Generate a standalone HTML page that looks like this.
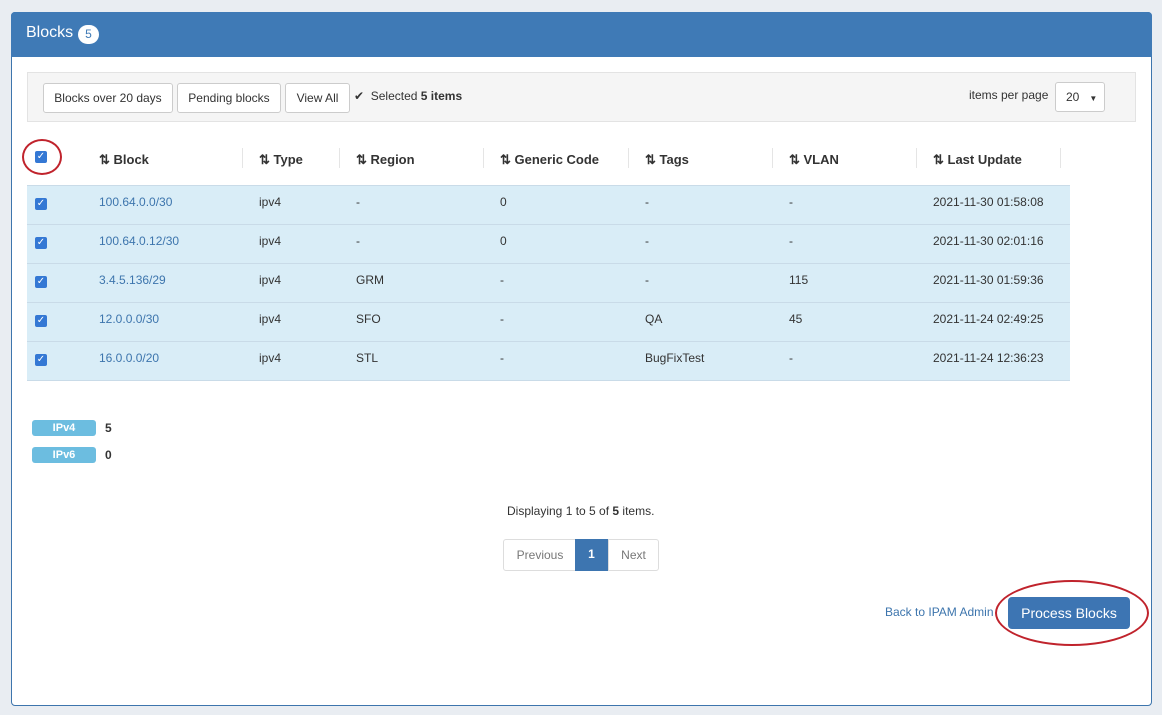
<!DOCTYPE html>
<html><head><style>
body{margin:0;width:1162px;height:715px;background:#e9edf2;font-family:"Liberation Sans",Arial,sans-serif;position:relative;overflow:hidden;font-size:12px;color:#333}
.a{position:absolute}
.panel{left:11px;top:12px;width:1139px;height:692px;background:#fff;border:1px solid #3d75ad;border-radius:4px}
.hdr{left:11px;top:12px;width:1141px;height:45px;background:#3f7ab6;border-radius:4px 4px 0 0}
.btn{top:83px;height:28px;border:1px solid #ccc;border-radius:3px;background:#fff;font-size:12px;line-height:28px;text-align:center;color:#333}
.th{top:152px;font-weight:bold;font-size:13px;color:#333}
.sep{top:148px;width:1px;height:20px;background:#e5e5e5}
.row{left:27px;width:1043px;height:38px;background:#d9edf7;border-top:1px solid #c9dbe8}
.cb{width:12px;height:12px;background:#3478d4;border-radius:2px;color:#fff;font-size:10px;line-height:12px;text-align:center}
.c{font-size:12px}
.lk{color:#3d75ad}
.badge{left:32px;width:64px;height:16px;background:#6cbde0;border-radius:3px;color:#fff;font-size:11px;font-weight:bold;text-align:center;line-height:16px}
</style></head><body>
<div class="a panel"></div>
<div class="a hdr"></div>
<div class="a" style="left:26px;top:24px;color:#fff;font-size:16px">Blocks</div>
<div class="a" style="left:78px;top:25px;width:21px;height:19px;border-radius:10px;background:#fff;color:#3f7ab6;font-size:12px;text-align:center;line-height:19px">5</div>
<div class="a" style="left:27px;top:72px;width:1107px;height:48px;background:#f5f5f5;border:1px solid #e3e3e3"></div>
<div class="a btn" style="left:43px;width:128px">Blocks over 20 days</div>
<div class="a btn" style="left:177px;width:102px">Pending blocks</div>
<div class="a btn" style="left:285px;width:63px">View All</div>
<div class="a" style="left:354px;top:89px;font-size:12px">✔&nbsp; Selected <b>5 items</b></div>
<div class="a" style="left:969px;top:88px">items per page</div>
<div class="a" style="left:1055px;top:82px;width:48px;height:28px;border:1px solid #ccc;border-radius:3px;background:#fff;line-height:28px"><span style="margin-left:10px">20</span><span style="margin-left:10px;font-size:8px">▼</span></div>
<div class="a cb" style="left:35px;top:151px">✓</div>
<div class="a" style="left:22px;top:139px;width:36px;height:32px;border:2px solid #c0232c;border-radius:50%"></div>
<div class="a th" style="left:99px">⇅ Block</div>
<div class="a sep" style="left:242px"></div>
<div class="a th" style="left:259px">⇅ Type</div>
<div class="a sep" style="left:339px"></div>
<div class="a th" style="left:356px">⇅ Region</div>
<div class="a sep" style="left:483px"></div>
<div class="a th" style="left:500px">⇅ Generic Code</div>
<div class="a sep" style="left:628px"></div>
<div class="a th" style="left:645px">⇅ Tags</div>
<div class="a sep" style="left:772px"></div>
<div class="a th" style="left:789px">⇅ VLAN</div>
<div class="a sep" style="left:916px"></div>
<div class="a th" style="left:933px">⇅ Last Update</div>
<div class="a sep" style="left:1060px"></div>

<div class="a row" style="top:185px"></div>
<div class="a row" style="top:224px"></div>
<div class="a row" style="top:263px"></div>
<div class="a row" style="top:302px"></div>
<div class="a row" style="top:341px;border-bottom:1px solid #c9dbe8"></div>

<div class="a cb" style="left:35px;top:198px">✓</div>
<div class="a c lk" style="left:99px;top:195px">100.64.0.0/30</div>
<div class="a c" style="left:259px;top:195px">ipv4</div>
<div class="a c" style="left:356px;top:195px">-</div>
<div class="a c" style="left:500px;top:195px">0</div>
<div class="a c" style="left:645px;top:195px">-</div>
<div class="a c" style="left:789px;top:195px">-</div>
<div class="a c" style="left:933px;top:195px">2021-11-30 01:58:08</div>

<div class="a cb" style="left:35px;top:237px">✓</div>
<div class="a c lk" style="left:99px;top:234px">100.64.0.12/30</div>
<div class="a c" style="left:259px;top:234px">ipv4</div>
<div class="a c" style="left:356px;top:234px">-</div>
<div class="a c" style="left:500px;top:234px">0</div>
<div class="a c" style="left:645px;top:234px">-</div>
<div class="a c" style="left:789px;top:234px">-</div>
<div class="a c" style="left:933px;top:234px">2021-11-30 02:01:16</div>

<div class="a cb" style="left:35px;top:276px">✓</div>
<div class="a c lk" style="left:99px;top:273px">3.4.5.136/29</div>
<div class="a c" style="left:259px;top:273px">ipv4</div>
<div class="a c" style="left:356px;top:273px">GRM</div>
<div class="a c" style="left:500px;top:273px">-</div>
<div class="a c" style="left:645px;top:273px">-</div>
<div class="a c" style="left:789px;top:273px">115</div>
<div class="a c" style="left:933px;top:273px">2021-11-30 01:59:36</div>

<div class="a cb" style="left:35px;top:315px">✓</div>
<div class="a c lk" style="left:99px;top:312px">12.0.0.0/30</div>
<div class="a c" style="left:259px;top:312px">ipv4</div>
<div class="a c" style="left:356px;top:312px">SFO</div>
<div class="a c" style="left:500px;top:312px">-</div>
<div class="a c" style="left:645px;top:312px">QA</div>
<div class="a c" style="left:789px;top:312px">45</div>
<div class="a c" style="left:933px;top:312px">2021-11-24 02:49:25</div>

<div class="a cb" style="left:35px;top:354px">✓</div>
<div class="a c lk" style="left:99px;top:351px">16.0.0.0/20</div>
<div class="a c" style="left:259px;top:351px">ipv4</div>
<div class="a c" style="left:356px;top:351px">STL</div>
<div class="a c" style="left:500px;top:351px">-</div>
<div class="a c" style="left:645px;top:351px">BugFixTest</div>
<div class="a c" style="left:789px;top:351px">-</div>
<div class="a c" style="left:933px;top:351px">2021-11-24 12:36:23</div>

<div class="a badge" style="top:420px">IPv4</div>
<div class="a" style="left:105px;top:421px;font-weight:bold">5</div>
<div class="a badge" style="top:447px">IPv6</div>
<div class="a" style="left:105px;top:448px;font-weight:bold">0</div>

<div class="a" style="left:507px;top:504px">Displaying 1 to 5 of <b>5</b> items.</div>
<div class="a" style="left:503px;top:539px;width:72px;height:30px;border:1px solid #ddd;border-radius:3px 0 0 3px;color:#777;text-align:center;line-height:30px;background:#fff">Previous</div>
<div class="a" style="left:575px;top:539px;width:33px;height:32px;background:#3d75b0;color:#fff;text-align:center;line-height:31px;font-weight:bold">1</div>
<div class="a" style="left:608px;top:539px;width:49px;height:30px;border:1px solid #ddd;border-radius:0 3px 3px 0;color:#777;text-align:center;line-height:30px;background:#fff">Next</div>

<div class="a lk" style="left:885px;top:605px">Back to IPAM Admin</div>
<div class="a" style="left:1008px;top:597px;width:122px;height:32px;background:#3d75b3;border-radius:4px;color:#fff;font-size:14px;text-align:center;line-height:32px">Process Blocks</div>
<div class="a" style="left:995px;top:580px;width:150px;height:62px;border:2px solid #c0232c;border-radius:50%"></div>
</body></html>
